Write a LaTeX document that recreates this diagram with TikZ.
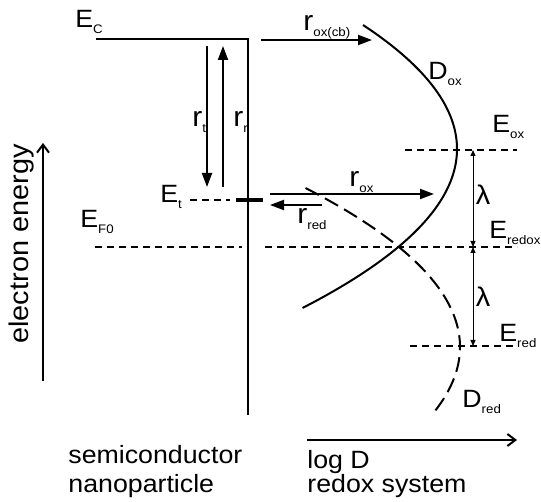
\documentclass[tikz,border=0pt]{standalone}
\usepackage{fontspec}
\setmainfont{Liberation Sans}[FakeStretch=1.07]
\usetikzlibrary{arrows.meta}
\newcommand\subl[1]{\raisebox{-3pt}{\fontsize{6.2}{7}\selectfont #1}}
\begin{document}
\begin{tikzpicture}[x=0.5pt,y=-0.5pt,
  lbl/.style={anchor=base west,inner sep=0pt,font=\fontsize{12.5}{14}\selectfont},
  rlbl/.style={anchor=base west,inner sep=0pt,font=\fontsize{14}{16}\selectfont},
  main/.style={line width=1pt},
  rate/.style={line width=1pt,-{Triangle[length=7pt,width=5pt]}},
  level/.style={line width=0.8pt,dash pattern=on 3.5pt off 2.5pt},
  lam/.style={line width=0.5pt,{Triangle[length=3pt,width=2.5pt]}-{Triangle[length=3pt,width=2.5pt]}},
  axis/.style={line width=0.8pt,-{Straight Barb[length=4pt,width=6pt,line width=1pt]}}]
\useasboundingbox (0,0) rectangle (541,502);
% coordinates
\coordinate (ecl) at (96,39);
\coordinate (ecr) at (248,39);
\coordinate (vb) at (248,415);
\coordinate (cb1) at (261,40);
\coordinate (cb2) at (372,40);
\coordinate (rt1) at (207,46);
\coordinate (rt2) at (207,187);
\coordinate (rr1) at (223,187);
\coordinate (rr2) at (223,46);
\coordinate (et1) at (190,200);
\coordinate (et2) at (230,200);
\coordinate (tb1) at (236,200);
\coordinate (tb2) at (263,200);
\coordinate (ox1) at (270,194);
\coordinate (ox2) at (434,194);
\coordinate (rd1) at (322,205);
\coordinate (rd2) at (270,205);
\coordinate (f1) at (95,247);
\coordinate (f2) at (242,247);
\coordinate (f3) at (265,247);
\coordinate (f4) at (517,247);
\coordinate (eo1) at (405,150);
\coordinate (eo2) at (517,150);
\coordinate (er1) at (410,346);
\coordinate (er2) at (517,346);
\coordinate (la) at (473,150);
\coordinate (lb) at (473,247);
\coordinate (lc) at (473,346);
\coordinate (ee1) at (43,381);
\coordinate (ee2) at (43,143);
\coordinate (ld1) at (307,440);
\coordinate (ld2) at (517,440);
% semiconductor
\draw[main] (ecl) -- (ecr) -- (vb);
\draw[rate] (cb1) -- (cb2);
\draw[rate] (rt1) -- (rt2);
\draw[rate] (rr1) -- (rr2);
\draw[level] (et1) -- (et2);
\draw[line width=2pt] (tb1) -- (tb2);
\draw[rate] (ox1) -- (ox2);
\draw[rate] (rd1) -- (rd2);
\draw[level] (f1) -- (f2);
\draw[level] (f3) -- (f4);
\draw[level] (eo1) -- (eo2);
\draw[level] (er1) -- (er2);
\draw[lam] (la) -- (lb);
\draw[lam] (lb) -- (lc);
\draw[axis] (ee1) -- (ee2);
\draw[axis] (ld1) -- (ld2);
% distributions
\draw[main] plot[domain=25:308,samples=60,smooth] ({457-(0.07817*(\x-149))^2},\x);
\draw[main,dash pattern=on 7.5pt off 3.5pt] plot[domain=188:413,samples=60,smooth] ({460-(0.07817*(\x-347))^2},\x);
% labels
\node[lbl] (lEc) at (75,28) {E\subl{C}};
\node[rlbl] (lcb) at (303,31) {r\subl{ox(cb)}};
\node[rlbl] (lrt) at (192,127) {r\subl{t}};
\node[rlbl] (lrr) at (233,127) {r\subl{r}};
\node[lbl] (lEt) at (160,203) {E\subl{t}};
\node[lbl] (lEf) at (80,228) {E\subl{F0}};
\node[rlbl] (lrox) at (349,187) {r\subl{ox}};
\node[rlbl] (lrred) at (297,224) {r\subl{red}};
\node[lbl] (lDox) at (428,80) {D\subl{ox}};
\node[lbl] (lEox) at (492,133) {E\subl{ox}};
\node[inner sep=0pt,font=\fontsize{13.5}{14}\selectfont] (lam1) at (483,195) {λ};
\node[lbl] (lEredox) at (489,239) {E\subl{redox}};
\node[inner sep=0pt,font=\fontsize{13.5}{14}\selectfont] (lam2) at (483,297) {λ};
\node[lbl] (lEred) at (499,342) {E\subl{red}};
\node[lbl] (lDred) at (462,408) {D\subl{red}};
\node[inner sep=0pt,rotate=90,font=\fontsize{13.5}{14}\selectfont] (lee) at (22,244) {electron energy};
\node[lbl] (ls1) at (68,463) {semiconductor};
\node[lbl] (ls2) at (68,492) {nanoparticle};
\node[lbl] (lr1) at (307,468) {log D};
\node[lbl] (lr2) at (307,492) {redox system};
\end{tikzpicture}
\end{document}
